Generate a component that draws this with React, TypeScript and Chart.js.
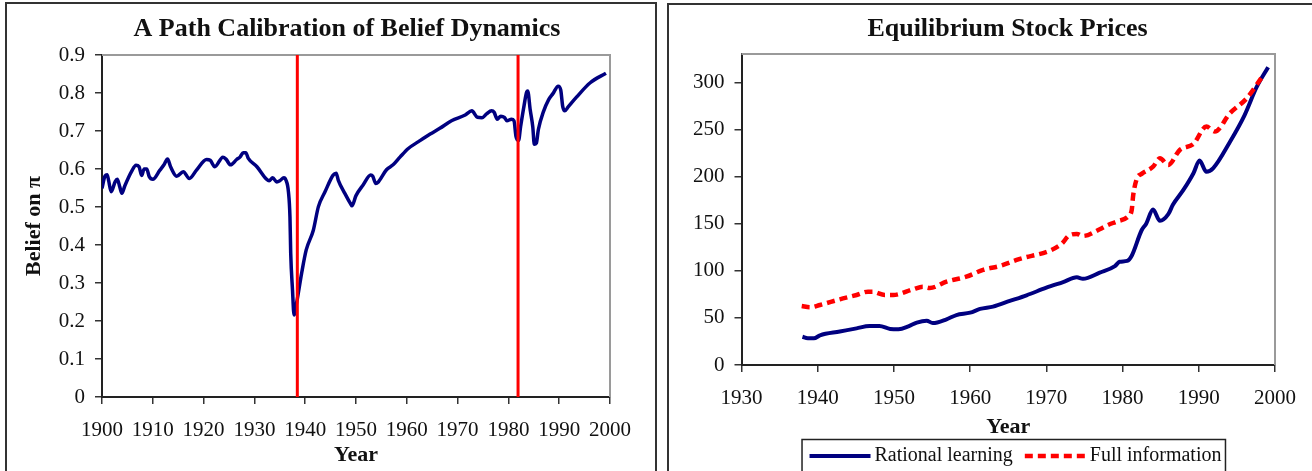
import React, { useEffect, useRef } from 'react';
import { Chart, registerables } from 'chart.js';

Chart.register(...registerables);

const FONT = "'Liberation Serif', 'Times New Roman', serif";

// ---- Left chart: belief dynamics ----
const beliefYears = [
  1900.0, 1900.6, 1901.0, 1901.3, 1901.8, 1902.6, 1903.0, 1903.5, 1903.9, 1904.5,
  1905.8, 1906.7, 1907.3, 1907.8, 1908.3, 1908.8, 1909.3, 1910.0, 1911.4, 1912.2,
  1912.9, 1913.5, 1914.7, 1916.0, 1917.2, 1918.6, 1920.6, 1921.3, 1922.2, 1923.8,
  1924.4, 1925.3, 1926.5, 1927.2, 1927.8, 1928.3, 1928.8, 1930.5, 1932.4, 1932.9,
  1933.6, 1934.4, 1935.0, 1935.8, 1936.2, 1936.7, 1937.0, 1937.15, 1937.5, 1937.8,
  1938.3, 1939.3, 1940.2, 1941.6, 1942.6, 1943.9, 1945.5, 1946.1, 1946.5, 1947.8,
  1949.0, 1949.2, 1950.0, 1951.4, 1952.9, 1953.3, 1953.9, 1954.4, 1956.0, 1957.3,
  1958.7, 1960.3, 1962.3, 1964.6, 1966.5, 1968.8, 1971.5, 1972.8, 1973.9, 1974.8,
  1975.7, 1976.7, 1977.2, 1977.8, 1978.5, 1979.2, 1979.7, 1980.6, 1981.1, 1981.5,
  1982.0, 1982.4, 1983.1, 1983.6, 1983.8, 1984.3, 1984.8, 1985.1, 1985.5, 1985.9,
  1986.9, 1987.9, 1988.8, 1989.8, 1990.3, 1990.7, 1991.1, 1991.8, 1993.4, 1996.1,
  1999.2,
];
const beliefValues = [
  0.549, 0.582, 0.585, 0.570, 0.540, 0.567, 0.573, 0.553, 0.536, 0.556,
  0.593, 0.610, 0.606, 0.583, 0.600, 0.600, 0.580, 0.573, 0.597, 0.611,
  0.626, 0.606, 0.581, 0.593, 0.575, 0.597, 0.625, 0.623, 0.606, 0.631,
  0.626, 0.611, 0.625, 0.632, 0.643, 0.643, 0.628, 0.606, 0.573, 0.569,
  0.577, 0.566, 0.569, 0.577, 0.571, 0.540, 0.474, 0.378, 0.282, 0.216,
  0.247, 0.326, 0.387, 0.439, 0.501, 0.540, 0.584, 0.589, 0.571, 0.536,
  0.507, 0.503, 0.530, 0.558, 0.584, 0.581, 0.562, 0.566, 0.598, 0.611,
  0.632, 0.654, 0.672, 0.692, 0.707, 0.727, 0.742, 0.753, 0.736, 0.735,
  0.745, 0.753, 0.749, 0.731, 0.739, 0.736, 0.727, 0.731, 0.727, 0.685,
  0.675, 0.711, 0.768, 0.803, 0.805, 0.755, 0.711, 0.665, 0.668, 0.704,
  0.751, 0.782, 0.799, 0.818, 0.808, 0.764, 0.753, 0.764, 0.789, 0.827,
  0.852,
];
const breakYears = [1938.45, 1981.9];

// ---- Right chart: equilibrium stock prices ----
const rationalYears = [
  1938.0, 1938.7, 1939.5, 1940.3, 1942.9, 1945.1, 1946.8, 1948.1, 1949.5, 1950.6,
  1951.9, 1953.0, 1954.3, 1955.1, 1956.9, 1958.2, 1960.0, 1961.3, 1963.0, 1965.2,
  1967.4, 1970.0, 1972.2, 1974.0, 1974.8, 1977.0, 1979.0, 1979.6, 1980.6, 1981.2,
  1982.5, 1983.1, 1984.0, 1984.9, 1986.0, 1986.6, 1988.0, 1989.3, 1990.1, 1991.0,
  1991.9, 1994.1, 1996.0, 1997.6, 1999.1,
];
const rationalPrices = [
  30.0, 28.3, 28.3, 31.5, 35.5, 38.9, 41.4, 41.4, 38.3, 38.0,
  41.0, 45.0, 47.0, 44.5, 48.5, 53.0, 55.5, 59.5, 62.0, 68.0,
  74.0, 82.0, 88.0, 93.0, 91.5, 98.0, 105.0, 109.5, 110.5, 116.0,
  143.0, 150.0, 165.0, 153.0, 160.0, 170.0, 186.0, 203.5, 217.0, 205.0,
  209.0, 237.0, 265.0, 295.0, 316.0,
];
const fullInfoYears = [
  1937.9, 1939.0, 1940.3, 1942.9, 1945.1, 1946.6, 1947.2, 1948.8, 1949.9, 1952.5,
  1953.8, 1954.7, 1956.9, 1959.5, 1961.7, 1963.9, 1966.1, 1972.0, 1972.9, 1974.0,
  1974.8, 1977.0, 1978.1, 1979.2, 1980.7, 1981.2, 1981.4, 1981.9, 1982.5, 1984.0,
  1984.9, 1986.0, 1987.5, 1989.3, 1991.0, 1992.1, 1994.1, 1996.3, 1998.2,
];
const fullInfoPrices = [
  62.6, 61.2, 63.7, 69.7, 74.3, 77.8, 77.8, 74.3, 74.3, 80.3,
  83.1, 81.7, 88.4, 93.7, 100.9, 105.1, 111.5, 128.5, 136.9, 139.1,
  136.9, 144.0, 148.6, 152.1, 157.4, 164.5, 180.5, 198.2, 202.8, 210.5,
  219.4, 212.3, 228.2, 234.6, 253.0, 247.7, 267.2, 283.1, 304.4,
];
const seriesLabels = ['Rational learning', 'Full information'];

const NAVY = '#000080';
const RED = '#ff0000';
const INK = '#111111';

const plotFrame = {
  id: 'plotFrame',
  beforeDatasetsDraw(chart: any) {
    const { ctx, chartArea: a } = chart;
    ctx.save();
    ctx.strokeStyle = '#9a9a9a';
    ctx.lineWidth = 2;
    ctx.beginPath();
    ctx.moveTo(a.left, a.top);
    ctx.lineTo(a.right, a.top);
    ctx.lineTo(a.right, a.bottom);
    ctx.stroke();
    ctx.restore();
  },
};

// Re-centres the chart title block horizontally on a given canvas x.
const titleCenter = {
  id: 'titleCenter',
  afterLayout(chart: any, _args: any, opts: any) {
    const tb = chart.titleBlock;
    if (!tb || !opts || opts.centerX == null) return;
    const w = tb.right - tb.left;
    tb.left = opts.centerX - w / 2;
    tb.right = opts.centerX + w / 2;
  },
};

const boxLegend = {
  id: 'boxLegend',
  afterDraw(chart: any, _args: any, opts: any) {
    if (!opts || !opts.display) return;
    const { ctx } = chart;
    ctx.save();
    ctx.font = `${opts.fontSize}px ${FONT}`;
    const items = chart.data.datasets.map((ds: any) => ({
      text: ds.label,
      color: ds.borderColor,
      dash: ds.borderDash || [],
      w: ds.borderWidth,
    }));
    const sample = opts.sampleWidth;
    const gapText = opts.gapText;
    const gapItem = opts.gapItem;
    const widths = items.map((it: any) => sample + gapText + ctx.measureText(it.text).width);
    const total = widths.reduce((s: number, v: number) => s + v, 0) + gapItem * (items.length - 1);
    let x = opts.centerX - total / 2;
    const y = opts.textY;
    ctx.strokeStyle = '#222';
    ctx.lineWidth = 1.5;
    ctx.strokeRect(x - opts.padLeft, opts.top, total + opts.padLeft + opts.padRight, 80);
    items.forEach((it: any, i: number) => {
      ctx.beginPath();
      ctx.setLineDash(it.dash);
      ctx.strokeStyle = it.color;
      ctx.lineWidth = it.w;
      ctx.moveTo(x, y);
      ctx.lineTo(x + sample, y);
      ctx.stroke();
      ctx.setLineDash([]);
      ctx.fillStyle = INK;
      ctx.textBaseline = 'middle';
      ctx.textAlign = 'left';
      ctx.fillText(it.text, x + sample + gapText, y);
      x += widths[i] + gapItem;
    });
    ctx.restore();
  },
};

function axisCommon() {
  return {
    grid: { drawOnChartArea: false, drawTicks: true, tickLength: 7, color: '#333', lineWidth: 1.5 },
    border: { display: true, color: '#222', width: 2 },
  };
}

function LeftChart() {
  const ref = useRef<HTMLCanvasElement>(null);
  useEffect(() => {
    if (!ref.current) return;
    const chart = new Chart(ref.current, {
      type: 'line',
      data: {
        datasets: [
          ...breakYears.map((yr) => ({
            label: 'break',
            data: [{ x: yr, y: 0 }, { x: yr, y: 0.9 }],
            borderColor: RED,
            borderWidth: 3,
            pointRadius: 0,
            tension: 0,
            order: 0,
          })),
          {
            label: 'Belief on π',
            data: beliefYears.map((x, i) => ({ x, y: beliefValues[i] })),
            borderColor: NAVY,
            borderWidth: 3.5,
            pointRadius: 0,
            cubicInterpolationMode: 'monotone',
            order: 1,
          },
        ],
      } as any,
      options: {
        responsive: false,
        animation: false,
        layout: { padding: { left: 0, right: 50, top: 0, bottom: 0 } },
        plugins: {
          legend: { display: false },
          tooltip: { enabled: false },
          title: {
            display: true,
            text: 'A Path Calibration of Belief Dynamics',
            font: { size: 26, weight: 'bold', family: FONT },
            color: INK,
            padding: { top: 14, bottom: 9.8 },
          },
          titleCenter: { centerX: 347 },
        },
        scales: {
          x: {
            type: 'linear',
            min: 1900,
            max: 2000,
            ...axisCommon(),
            ticks: {
              stepSize: 10,
              autoSkip: false,
              maxRotation: 0,
              padding: 14,
              color: INK,
              font: { size: 21, family: FONT },
              callback: (v: any) => String(v),
            },
            title: {
              display: true,
              text: 'Year',
              color: INK,
              font: { size: 22, weight: 'bold', family: FONT },
              padding: { top: 0, bottom: 2 },
            },
            afterFit: (s: any) => { s.height = 74; },
          },
          y: {
            min: 0,
            max: 0.9,
            ...axisCommon(),
            ticks: {
              stepSize: 0.1,
              padding: 10,
              color: INK,
              font: { size: 21, family: FONT },
              callback: (v: any) => (v === 0 ? '0' : Number(v).toFixed(1)),
            },
            title: {
              display: true,
              text: 'Belief on π',
              color: INK,
              font: { size: 22, weight: 'bold', family: FONT },
              padding: { top: 21, bottom: 0 },
            },
            afterFit: (s: any) => { s.width = 102; },
          },
        },
      } as any,
      plugins: [plotFrame, titleCenter],
    });
    return () => chart.destroy();
  }, []);
  return (
    <canvas
      ref={ref}
      width={660}
      height={471}
      style={{ position: 'absolute', left: 0, top: 0, width: 660, height: 471 }}
    />
  );
}

function RightChart() {
  const ref = useRef<HTMLCanvasElement>(null);
  useEffect(() => {
    if (!ref.current) return;
    const chart = new Chart(ref.current, {
      type: 'line',
      data: {
        datasets: [
          {
            label: seriesLabels[0],
            data: rationalYears.map((x, i) => ({ x, y: rationalPrices[i] })),
            borderColor: NAVY,
            borderWidth: 4,
            pointRadius: 0,
            cubicInterpolationMode: 'monotone',
            order: 1,
          },
          {
            label: seriesLabels[1],
            data: fullInfoYears.map((x, i) => ({ x, y: fullInfoPrices[i] })),
            borderColor: RED,
            borderWidth: 4.5,
            borderDash: [8, 5],
            pointRadius: 0,
            cubicInterpolationMode: 'monotone',
            order: 0,
          },
        ],
      } as any,
      options: {
        responsive: false,
        animation: false,
        layout: { padding: { left: 0, right: 37, top: 0, bottom: 0 } },
        plugins: {
          legend: { display: false },
          tooltip: { enabled: false },
          title: {
            display: true,
            text: 'Equilibrium Stock Prices',
            font: { size: 26, weight: 'bold', family: FONT },
            color: INK,
            padding: { top: 14, bottom: 8.8 },
          },
          titleCenter: { centerX: 347.5 },
          boxLegend: {
            display: true,
            fontSize: 20,
            sampleWidth: 61,
            gapText: 4,
            gapItem: 12,
            centerX: 355.5,
            textY: 456,
            top: 439.5,
            padLeft: 7.5,
            padRight: 4,
          },
        },
        scales: {
          x: {
            type: 'linear',
            min: 1930,
            max: 2000,
            ...axisCommon(),
            ticks: {
              stepSize: 10,
              autoSkip: false,
              maxRotation: 0,
              padding: 14,
              color: INK,
              font: { size: 21, family: FONT },
              callback: (v: any) => String(v),
            },
            title: {
              display: true,
              text: 'Year',
              color: INK,
              font: { size: 22, weight: 'bold', family: FONT },
              padding: { top: 0, bottom: 30 },
            },
            afterFit: (s: any) => { s.height = 106; },
          },
          y: {
            min: 0,
            max: 330,
            ...axisCommon(),
            ticks: {
              stepSize: 50,
              includeBounds: false,
              padding: 10,
              color: INK,
              font: { size: 21, family: FONT },
              callback: (v: any) => String(v),
            },
            afterFit: (s: any) => { s.width = 81.5; },
          },
        },
      } as any,
      plugins: [plotFrame, titleCenter, boxLegend],
    });
    return () => chart.destroy();
  }, []);
  return (
    <canvas
      ref={ref}
      width={652}
      height={471}
      style={{ position: 'absolute', left: 660, top: 0, width: 652, height: 471 }}
    />
  );
}

export default function App() {
  return (
    <div
      style={{
        position: 'fixed',
        left: 0,
        top: 0,
        width: 1312,
        height: 471,
        overflow: 'hidden',
        background: '#ffffff',
      }}
    >
      <div
        style={{
          position: 'absolute',
          left: 5,
          top: 2,
          width: 648,
          height: 500,
          border: '2px solid #333',
        }}
      />
      <div
        style={{
          position: 'absolute',
          left: 667,
          top: 3,
          width: 700,
          height: 500,
          border: '2px solid #333',
        }}
      />
      <LeftChart />
      <RightChart />
    </div>
  );
}
